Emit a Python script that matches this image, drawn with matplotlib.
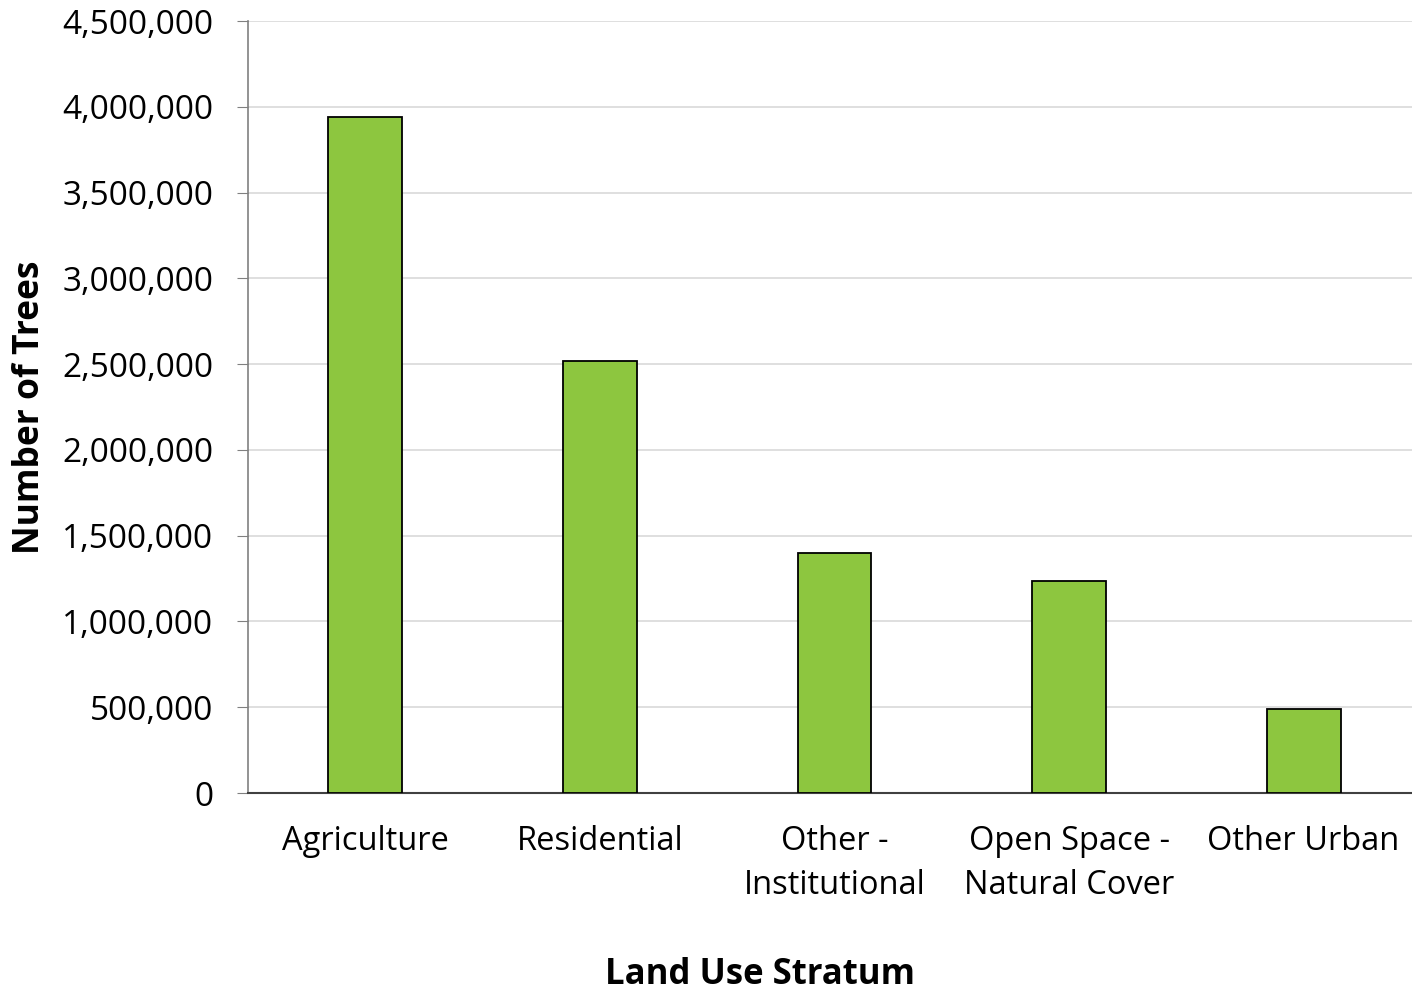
import matplotlib
matplotlib.use("Agg")
import matplotlib.pyplot as plt
from matplotlib.ticker import FuncFormatter

categories = ["Agriculture", "Residential", "Other -\nInstitutional",
              "Open Space -\nNatural Cover", "Other Urban"]
trees = [3940000, 2520000, 1400000, 1235000, 490000]
y_ticks = [0, 500000, 1000000, 1500000, 2000000, 2500000, 3000000, 3500000, 4000000, 4500000]

plt.rcParams["font.family"] = ["Open Sans", "DejaVu Sans"]

fig = plt.figure(figsize=(14.12, 9.97), dpi=100)
ax = fig.add_axes([248 / 1412, 1 - 793 / 997, (1412 - 248) / 1412, (793 - 21) / 997])

x = range(len(categories))
ax.bar(x, trees, width=0.315, color="#8DC63F", edgecolor="black", linewidth=1.3, zorder=3)

ax.set_ylim(0, 4500000)
ax.set_xlim(-0.5, 4.462)
ax.set_yticks(y_ticks)
ax.yaxis.set_major_formatter(FuncFormatter(lambda v, p: f"{int(v):,}"))
ax.set_xticks(list(x))
ax.set_xticklabels(categories, fontsize=23.5, linespacing=1.45)
ax.tick_params(axis="y", labelsize=24, length=8, color="#808080", pad=17)
ax.tick_params(axis="x", length=0, pad=23)
ax.grid(axis="y", color="#D9D9D9", linewidth=1.2, zorder=0)

for s in ["top", "right"]:
    ax.spines[s].set_visible(False)
ax.spines["left"].set_color("#808080")
ax.spines["bottom"].set_color("#404040")
ax.spines["left"].set_linewidth(1.2)
ax.spines["bottom"].set_linewidth(1.5)

fig.text(30 / 1412, 1 - 407 / 997, "Number of Trees", fontsize=25.5, fontweight="bold",
         rotation=90, ha="center", va="center")
fig.text(760 / 1412, 1 - 975 / 997, "Land Use Stratum", fontsize=25, fontweight="bold",
         ha="center", va="center")

fig.savefig("out.png", dpi=100, facecolor="white")
